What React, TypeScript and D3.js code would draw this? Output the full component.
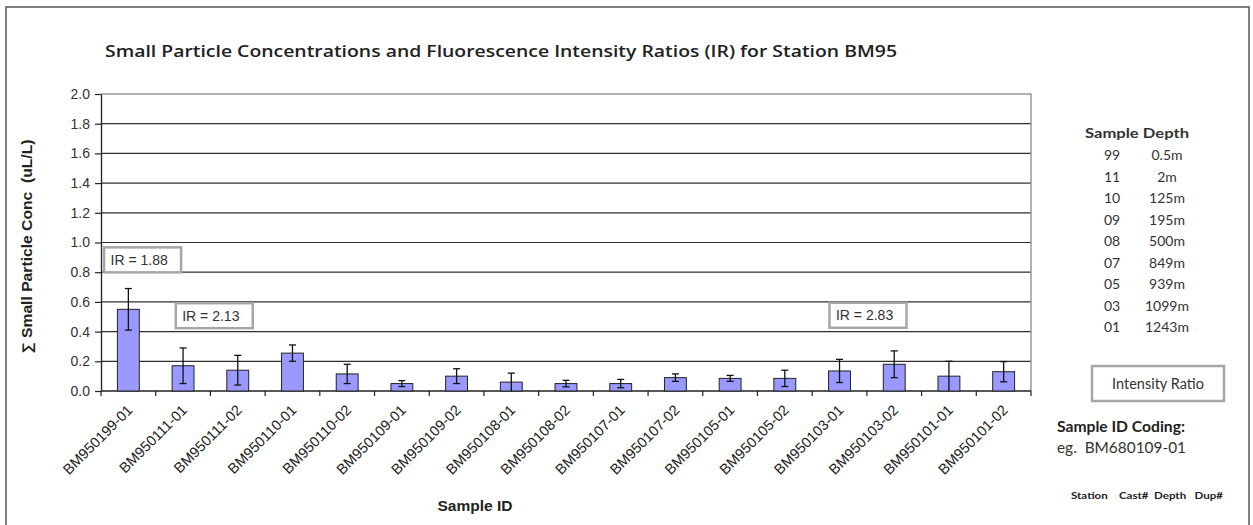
import React, { useEffect, useRef } from "react";
import * as d3 from "d3";

// sample ids along the x axis
const categories = [
  "BM950199-01", "BM950111-01", "BM950111-02", "BM950110-01", "BM950110-02",
  "BM950109-01", "BM950109-02", "BM950108-01", "BM950108-02", "BM950107-01",
  "BM950107-02", "BM950105-01", "BM950105-02", "BM950103-01", "BM950103-02",
  "BM950101-01", "BM950101-02",
];
// small particle conc (uL/L) and its error
const concValues = [0.55, 0.17, 0.14, 0.255, 0.115, 0.05, 0.1, 0.06, 0.05, 0.05, 0.09, 0.085, 0.085, 0.135, 0.18, 0.1, 0.13];
const concErrors = [0.14, 0.12, 0.1, 0.055, 0.065, 0.02, 0.05, 0.06, 0.022, 0.028, 0.025, 0.02, 0.055, 0.078, 0.09, 0.1, 0.068];
const yTicks = [0, 0.2, 0.4, 0.6, 0.8, 1.0, 1.2, 1.4, 1.6, 1.8, 2.0];

const irLabels = ["IR = 1.88", "IR = 2.13", "IR = 2.83"];
const sampleCodes = ["99", "11", "10", "09", "08", "07", "05", "03", "01"];
const sampleDepths = ["0.5m", "2m", "125m", "195m", "500m", "849m", "939m", "1099m", "1243m"];

const W = 1253;
const H = 525;
const SANS = "'Liberation Sans', Arial, sans-serif";
const CAL = "Lato, 'Open Sans', sans-serif";

export default function App() {
  const ref = useRef<SVGSVGElement | null>(null);

  useEffect(() => {
    if (!ref.current) return;
    const svg = d3.select(ref.current);
    svg.selectAll("*").remove();

    const left = 101, right = 1031, top = 94, bottom = 391;

    const x = d3.scaleBand<string>().domain(categories).range([left, right]).paddingInner(0.6).paddingOuter(0.3);
    const y = d3.scaleLinear().domain([0, 2]).range([bottom, top]);
    // category units, for placing the text boxes
    const xu = d3.scaleLinear().domain([0, categories.length]).range([left, right]);

    svg.append("rect").attr("width", W).attr("height", H).attr("fill", "#fff");
    // outer frame
    svg.append("rect")
      .attr("x", 6).attr("y", 7).attr("width", 1243).attr("height", 540)
      .attr("fill", "none").attr("stroke", "#555").attr("stroke-width", 1.5);

    // title
    svg.append("text")
      .attr("x", 105).attr("y", 57)
      .attr("font-family", "'Open Sans', Lato, sans-serif").attr("font-size", 17).attr("font-weight", 600)
      .attr("fill", "#222")
      .attr("textLength", 792).attr("lengthAdjust", "spacingAndGlyphs")
      .text("Small Particle Concentrations and Fluorescence Intensity Ratios (IR) for Station BM95");

    // grid
    svg.append("g")
      .selectAll("line")
      .data(yTicks.filter((t) => t > 0 && t < 2))
      .join("line")
      .attr("x1", left).attr("x2", right)
      .attr("y1", (d) => y(d)).attr("y2", (d) => y(d))
      .attr("stroke", "#2e2e2e").attr("stroke-width", 1.2);
    // plot border top/right
    svg.append("path")
      .attr("d", `M${left},${y(2)}H${right}V${bottom}`)
      .attr("fill", "none").attr("stroke", "#999").attr("stroke-width", 1.5);

    // y axis
    const ya = svg.append("g")
      .attr("transform", `translate(${left},0)`)
      .call(d3.axisLeft(y).tickValues(yTicks).tickFormat(d3.format(".1f")).tickSize(6).tickPadding(5).tickSizeOuter(0));
    ya.select(".domain").attr("stroke", "#222").attr("stroke-width", 1.3);
    ya.selectAll(".tick line").attr("stroke", "#222").attr("stroke-width", 1.2);
    ya.selectAll(".tick text").attr("font-family", SANS).attr("font-size", 14).attr("fill", "#333");

    // x axis line and ticks between categories
    svg.append("line")
      .attr("x1", left).attr("x2", right).attr("y1", bottom).attr("y2", bottom)
      .attr("stroke", "#222").attr("stroke-width", 1.3);
    svg.append("g")
      .selectAll("line")
      .data(d3.range(categories.length + 1))
      .join("line")
      .attr("x1", (i) => xu(i)).attr("x2", (i) => xu(i))
      .attr("y1", bottom).attr("y2", bottom + 5)
      .attr("stroke", "#222").attr("stroke-width", 1.2);

    // bars
    const bw = x.bandwidth();
    svg.append("g")
      .selectAll("rect")
      .data(categories)
      .join("rect")
      .attr("x", (c) => x(c)!)
      .attr("y", (c, i) => y(concValues[i]))
      .attr("width", bw)
      .attr("height", (c, i) => y(0) - y(concValues[i]))
      .attr("fill", "#9999ff").attr("stroke", "#222").attr("stroke-width", 1);

    // error bars
    const eg = svg.append("g").attr("stroke", "#111").attr("stroke-width", 1.3);
    categories.forEach((c, i) => {
      const cx = x(c)! + bw / 2;
      const hi = y(concValues[i] + concErrors[i]);
      const lo = y(Math.max(0, concValues[i] - concErrors[i]));
      eg.append("line").attr("x1", cx).attr("x2", cx).attr("y1", hi).attr("y2", lo);
      eg.append("line").attr("x1", cx - 3.5).attr("x2", cx + 3.5).attr("y1", hi).attr("y2", hi);
      if (concValues[i] - concErrors[i] > 0.005)
        eg.append("line").attr("x1", cx - 3.5).attr("x2", cx + 3.5).attr("y1", lo).attr("y2", lo);
    });

    // x labels
    svg.append("g")
      .selectAll("text")
      .data(categories)
      .join("text")
      .attr("transform", (c) => `translate(${x(c)! + bw / 2 + 5},${bottom + 20}) rotate(-45)`)
      .attr("text-anchor", "end")
      .attr("font-family", SANS).attr("font-size", 14.5).attr("fill", "#222")
      .text((c) => c);

    // axis titles
    svg.append("text")
      .attr("x", 475).attr("y", 511).attr("text-anchor", "middle")
      .attr("font-family", SANS).attr("font-size", 14).attr("font-weight", 700).attr("fill", "#222")
      .attr("textLength", 75).attr("lengthAdjust", "spacingAndGlyphs")
      .text("Sample ID");
    svg.append("text")
      .attr("transform", `translate(32,${(top + bottom) / 2 + 4}) rotate(-90)`)
      .attr("text-anchor", "middle")
      .attr("font-family", SANS).attr("font-size", 14).attr("font-weight", 700).attr("fill", "#222")
      .attr("textLength", 214).attr("lengthAdjust", "spacingAndGlyphs")
      .style("white-space", "pre")
      .text("\u2211 Small Particle Conc  (uL/L)");

    // IR text boxes
    const irPos = [
      [0.76, 0.883],
      [2.07, 0.507],
      [14.02, 0.51],
    ];
    irLabels.forEach((t, i) => {
      const cx = xu(irPos[i][0]);
      const cy = y(irPos[i][1]);
      svg.append("rect")
        .attr("x", cx - 38.5).attr("y", cy - 12.5).attr("width", 77).attr("height", 25)
        .attr("fill", "#fff").attr("stroke", "#a6a6a6").attr("stroke-width", 2.5);
      svg.append("text")
        .attr("x", cx - 32).attr("y", cy + 5)
        .attr("font-family", SANS).attr("font-size", 14).attr("fill", "#333")
        .text(t);
    });

    // sample depth table
    svg.append("text")
      .attr("x", 1137).attr("y", 138).attr("text-anchor", "middle")
      .attr("font-family", CAL).attr("font-size", 14).attr("font-weight", 700).attr("fill", "#333")
      .attr("textLength", 104).attr("lengthAdjust", "spacingAndGlyphs")
      .text("Sample Depth");
    const rowY = d3.scaleLinear().domain([0, sampleCodes.length - 1]).range([160, 332]);
    const lg = svg.append("g").attr("font-family", CAL).attr("font-size", 14).attr("fill", "#333").attr("text-anchor", "middle");
    sampleCodes.forEach((s, i) => {
      lg.append("text").attr("x", 1112).attr("y", rowY(i)).text(s);
      lg.append("text").attr("x", 1167).attr("y", rowY(i)).text(sampleDepths[i]);
    });

    // intensity ratio key
    svg.append("rect")
      .attr("x", 1092).attr("y", 366).attr("width", 132).attr("height", 35)
      .attr("fill", "#fff").attr("stroke", "#a6a6a6").attr("stroke-width", 2.5);
    svg.append("text")
      .attr("x", 1158).attr("y", 389).attr("text-anchor", "middle")
      .attr("font-family", CAL).attr("font-size", 14.5).attr("fill", "#333")
      .text("Intensity Ratio");

    // sample id coding
    svg.append("text")
      .attr("x", 1057).attr("y", 432)
      .attr("font-family", CAL).attr("font-size", 15).attr("font-weight", 700).attr("fill", "#222")
      .attr("textLength", 128).attr("lengthAdjust", "spacingAndGlyphs")
      .text("Sample ID Coding:");
    svg.append("text")
      .attr("x", 1057).attr("y", 453)
      .attr("font-family", CAL).attr("font-size", 15).attr("fill", "#333")
      .attr("textLength", 129).attr("lengthAdjust", "spacingAndGlyphs")
      .style("white-space", "pre")
      .text("eg.  BM680109-01");
    svg.append("text")
      .attr("x", 1071).attr("y", 499)
      .attr("font-family", CAL).attr("font-size", 10).attr("font-weight", 700).attr("fill", "#222")
      .attr("textLength", 152).attr("lengthAdjust", "spacingAndGlyphs")
      .style("white-space", "pre")
      .text("Station    Cast#  Depth   Dup#");
  }, []);

  return (
    <svg
      ref={ref}
      width={W}
      height={H}
      style={{ position: "absolute", left: 0, top: 0 }}
    />
  );
}
